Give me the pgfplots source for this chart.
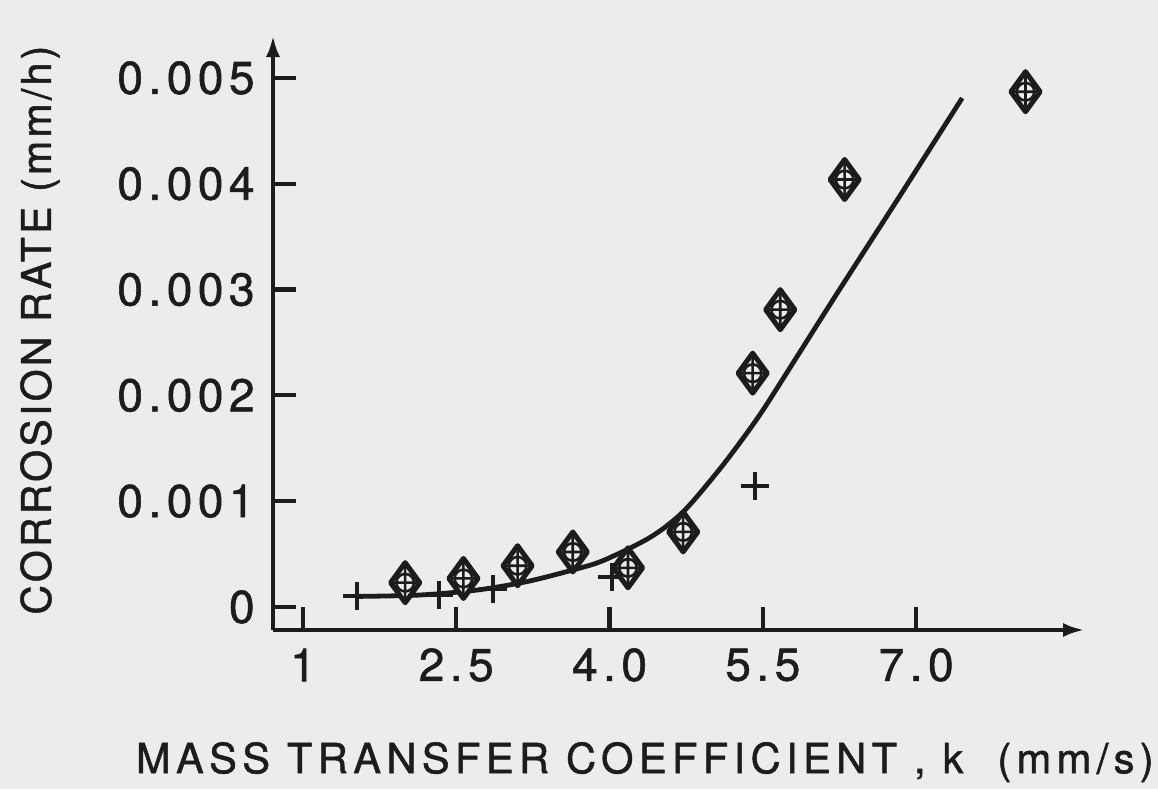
\documentclass[border=0pt]{standalone}
\usepackage{pgfplots}
\pgfplotsset{compat=1.18}
\usepackage{fontspec}
\setmainfont{TeX Gyre Heros}
\newfontfamily\ticksfont[LetterSpace=12,FakeBold=1.2]{TeX Gyre Heros}
\newfontfamily\xlabelfont[LetterSpace=13,FakeBold=1.2]{TeX Gyre Heros}
\newfontfamily\ylabelfont[LetterSpace=8,FakeBold=1.2]{TeX Gyre Heros}
\usetikzlibrary{arrows.meta}
\definecolor{ink}{HTML}{1C1C1C}
\definecolor{paper}{HTML}{ECECEC}

% diamond with an inscribed circle and cross (measured points)
\pgfdeclareplotmark{diamondplus}{%
  \pgfsetlinewidth{2.5pt}%
  \pgfsetroundjoin
  \pgfsetfillcolor{paper}%
  \pgfpathmoveto{\pgfqpoint{0pt}{10pt}}%
  \pgfpathlineto{\pgfqpoint{7.3pt}{0pt}}%
  \pgfpathlineto{\pgfqpoint{0pt}{-10pt}}%
  \pgfpathlineto{\pgfqpoint{-7.3pt}{0pt}}%
  \pgfpathclose
  \pgfusepathqfillstroke
  \pgfsetlinewidth{1.3pt}%
  \pgfpathcircle{\pgfpointorigin}{4.4pt}%
  \pgfpathmoveto{\pgfqpoint{-7.3pt}{0pt}}\pgfpathlineto{\pgfqpoint{7.3pt}{0pt}}%
  \pgfpathmoveto{\pgfqpoint{0pt}{-10pt}}\pgfpathlineto{\pgfqpoint{0pt}{10pt}}%
  \pgfusepathqstroke
}

\begin{document}
\begin{tikzpicture}
\path[use as bounding box, fill=paper] (-136.5pt,-79.5pt) rectangle (442.5pt,315pt);
\begin{axis}[
  at={(0pt,0pt)}, anchor=south west,
  scale only axis, width=406pt, height=297.5pt,
  xmin=0.7065, xmax=8.652, ymin=-0.0002174, ymax=0.005406,
  axis lines=left,
  axis line style={ink, line width=2.4pt},
  x axis line style={-{Latex[length=11pt,width=7pt]}},
  y axis line style={-{Latex[length=11pt,width=7pt]}},
  xtick={1,2.5,4,5.5,7}, xticklabels={1,2.5,4.0,5.5,7.0},
  ytick={0,0.001,0.002,0.003,0.004,0.005},
  yticklabels={0\hspace{6pt},0.001,0.002,0.003,0.004,0.005},
  scaled y ticks=false,
  tick align=inside, major tick length=11.5pt,
  tick style={ink, line width=2.1pt},
  xticklabel style={anchor=center, yshift=-17.5pt, inner sep=0pt,
    font=\ticksfont\fontsize{23}{26}\selectfont, text=ink},
  yticklabel style={anchor=east, xshift=-9pt, inner sep=0pt,
    font=\ticksfont\fontsize{23}{26}\selectfont, text=ink},
  xlabel={MASS TRANSFER COEFFICIENT , k \ (mm/s)},
  ylabel={CORROSION RATE (mm/h)},
  xlabel style={at={(axis description cs:0.458,-0.222)}, anchor=center,
    inner sep=0pt, font=\xlabelfont\fontsize{20.8}{25}\selectfont, text=ink},
  ylabel style={at={(axis description cs:-0.287,0.504)}, anchor=center,
    inner sep=0pt, font=\ylabelfont\fontsize{20.5}{24}\selectfont, text=ink},
]
% fitted curve
\addplot[ink, line width=2.4pt, smooth, tension=0.5] coordinates {
  (1.53,0.0001) (2.14,0.000113) (2.7,0.00016) (3.19,0.00024) (3.64,0.00035)
  (3.94,0.00044) (4.40,0.00066) (4.72,0.0009) (5.05,0.00127) (5.28,0.00156)
  (5.50,0.00186) (5.83,0.00236) (6.23,0.00297) (6.85,0.00390) (7.45,0.00481)
};
% plus-marked series
\addplot[only marks, mark=+, mark size=7pt, mark options={ink, line width=2pt}] coordinates {
  (1.53,0.0001) (2.33,0.00011) (2.86,0.00017) (4.02,0.00028) (5.42,0.00114)
};
% diamond-marked series
\addplot[only marks, mark=diamondplus, mark options={ink}] coordinates {
  (2.00,0.00023) (2.57,0.00027) (3.10,0.00039) (3.64,0.00052) (4.18,0.00037)
  (4.72,0.00071) (5.40,0.00221) (5.67,0.00281) (6.30,0.00404) (8.07,0.00487)
};
\end{axis}
\end{tikzpicture}
\end{document}
